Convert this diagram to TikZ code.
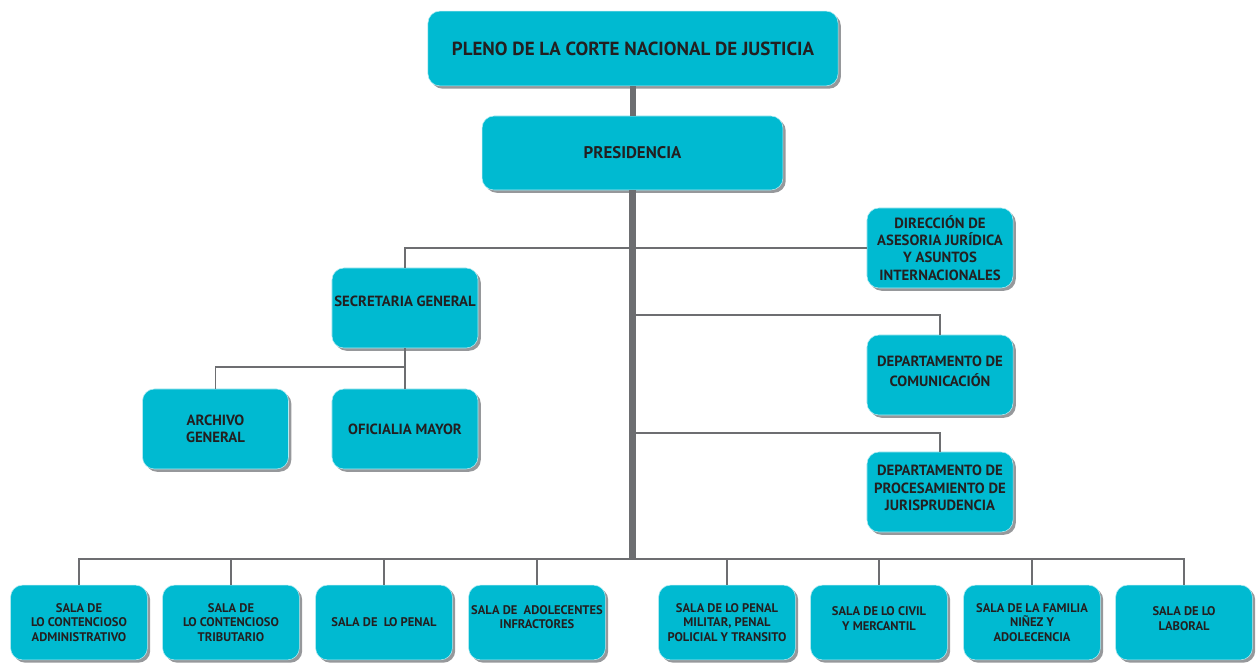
\documentclass[tikz,border=0pt]{standalone}
\usepackage{fontspec}
\setmainfont{PT Sans}
\usepackage{tikz}
\usetikzlibrary{calc}
\usetikzlibrary{shadows}
\usepackage{color}
\definecolor{cortecyan}{RGB}{0, 186, 209}
\definecolor{cortegray}{RGB}{109, 110, 113}
\definecolor{shadowgray}{RGB}{150, 152, 155}
\definecolor{inkdark}{RGB}{35, 31, 32}
\tikzset{
    unidad/.style    ={rounded corners=0.3cm, fill=cortecyan, draw=white!70!cortecyan, line width=0.4pt,
                       drop shadow={shadow xshift=0.07cm, shadow yshift=-0.07cm, fill=shadowgray, opacity=1},
                       align=center, text=inkdark, inner sep=1pt},
    mediana/.style   ={unidad, minimum width=3.65cm, minimum height=2.0cm, font=\bfseries\fontsize{10.5}{12.2}\selectfont},
    sala/.style      ={unidad, minimum width=3.42cm, minimum height=1.87cm, font=\bfseries\fontsize{8.9}{10.4}\selectfont},
    enlace/.style    ={color=cortegray, line width=1.4pt},
    tronco/.style    ={color=cortegray, line width=4.3pt}
}
\begin{document}
\begin{tikzpicture}[x=0.025cm, y=-0.025cm]
            \useasboundingbox                                             (0,0) rectangle (1256,663);
            % cabeza
            \node[unidad, minimum width=10.25cm, minimum height=1.87cm, font=\bfseries\fontsize{13.5}{16}\selectfont]
                                       (pleno)          at (633,48.5)   {PLENO DE LA CORTE NACIONAL DE JUSTICIA};
            \node[unidad, minimum width=7.52cm, minimum height=1.85cm, font=\bfseries\fontsize{12}{14}\selectfont]
                                       (presidencia)    at (632.5,153)  {PRESIDENCIA};
            % izquierda
            \node[mediana, text depth=10pt] (secretaria) at (405,308)    {SECRETARIA GENERAL};
            \node[mediana]             (archivo)        at (215.5,429)  {ARCHIVO\\GENERAL};
            \node[mediana]             (oficialia)      at (405,429)    {OFICIALIA MAYOR};
            % derecha
            \node[mediana]             (asesoria)       at (940,248)    {DIRECCIÓN DE\\ASESORIA JURÍDICA\\Y ASUNTOS\\INTERNACIONALES};
            \node[mediana, text depth=5pt] (comunicacion) at (940,375)   {DEPARTAMENTO DE\\[2pt]COMUNICACIÓN};
            \node[mediana, text depth=6pt] (jurisprudencia) at (940,492) {DEPARTAMENTO DE\\PROCESAMIENTO DE\\JURISPRUDENCIA};
            % salas
            \node[sala]                (salaAdm)        at (79,622.5)   {SALA DE\\LO CONTENCIOSO\\ADMINISTRATIVO};
            \node[sala]                (salaTrib)       at (231,622.5)  {SALA DE\\LO CONTENCIOSO\\TRIBUTARIO};
            \node[sala]                (salaPenal)      at (384,622.5)  {SALA DE~~LO PENAL};
            \node[sala, text depth=8pt] (salaAdol)      at (537,622.5)  {SALA DE~~ADOLECENTES\\INFRACTORES};
            \node[sala]                (salaMilitar)    at (727,622.5)  {SALA DE LO PENAL\\MILITAR, PENAL\\POLICIAL Y TRANSITO};
            \node[sala, text depth=6pt] (salaCivil)     at (879,622.5)  {SALA DE LO CIVIL\\Y MERCANTIL};
            \node[sala]                (salaFamilia)    at (1032,622.5) {SALA DE LA FAMILIA\\NIÑEZ Y\\ADOLECENCIA};
            \node[sala, text depth=6pt] (salaLaboral)   at (1184,622.5) {SALA DE LO\\LABORAL};
            % puntos de union
            \coordinate (bus)     at (633,559);
            \coordinate (uSecr)   at (405,367);
            \coordinate (uCom)    at (633,315);
            \coordinate (uJur)    at (633,433);
            % conectores
            \draw[enlace] (secretaria.north) |- (asesoria.west);
            \draw[enlace] (secretaria.south) -- (oficialia.north);
            \draw[enlace] (archivo.north)    |- (uSecr);
            \draw[enlace] (uCom)             -| (comunicacion.north);
            \draw[enlace] (uJur)             -| (jurisprudencia.north);
            \draw[enlace] (salaAdm.north)    |- (bus) -| (salaLaboral.north);
            \draw[enlace] (salaTrib.north)   -- (salaTrib.north |- bus);
            \draw[enlace] (salaPenal.north)  -- (salaPenal.north |- bus);
            \draw[enlace] (salaAdol.north)   -- (salaAdol.north |- bus);
            \draw[enlace] (salaMilitar.north) -- (salaMilitar.north |- bus);
            \draw[enlace] (salaCivil.north)  -- (salaCivil.north |- bus);
            \draw[enlace] (salaFamilia.north) -- (salaFamilia.north |- bus);
            \draw[tronco] (pleno.south)      -- (pleno.south |- presidencia.north);
            \draw[tronco] (presidencia.south) -- (presidencia.south |- bus);
\end{tikzpicture}
\end{document}
